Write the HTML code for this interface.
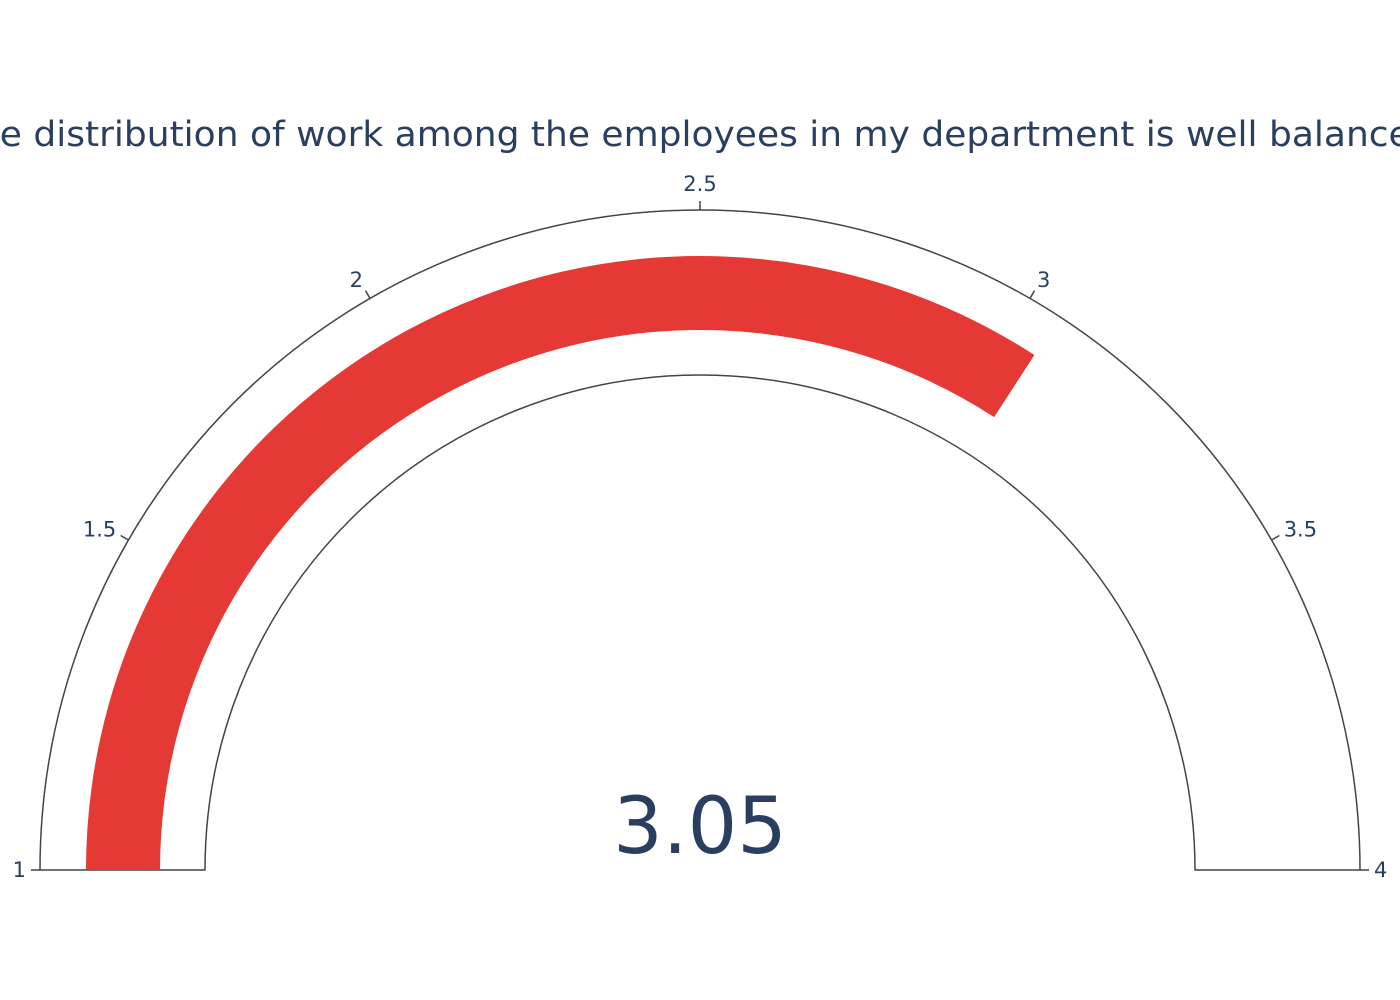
<!DOCTYPE html>
<html><head><meta charset="utf-8"><style>
html,body{margin:0;padding:0;background:#fff;width:1400px;height:1000px;overflow:hidden}
svg text{font-family:"DejaVu Sans","Liberation Sans",sans-serif;fill:#2a3f5f}
</style></head><body>
<svg id="chart" width="1400" height="1000">
<text x="700" y="146" text-anchor="middle" font-size="35" textLength="1490" lengthAdjust="spacingAndGlyphs">The distribution of work among the employees in my department is well balanced.</text>
<g id="g"></g>
<text id="val" x="700" y="853" text-anchor="middle" font-size="78"></text>
</svg>
<script>
const rangeMin = 1, rangeMax = 4;
const gaugeValue = [3.05];
const tickValues = [1, 1.5, 2, 2.5, 3, 3.5, 4];
const tickLabels = ["1", "1.5", "2", "2.5", "3", "3.5", "4"];
const cx = 700, cy = 870, rOut = 660, rIn = 495, bOut = 614, bIn = 540;
const NS = "http://www.w3.org/2000/svg";
const g = document.getElementById('g');
function ang(v){return Math.PI*(1-(v-rangeMin)/(rangeMax-rangeMin));}
function pt(r,a){return [cx+r*Math.cos(a), cy-r*Math.sin(a)];}
function arcPath(r1,r2,v0,v1){
  const a0=ang(v0),a1=ang(v1);
  const p1=pt(r2,a0),p2=pt(r2,a1),p3=pt(r1,a1),p4=pt(r1,a0);
  const large=(a0-a1)>Math.PI?1:0;
  return `M${p1} A${r2},${r2} 0 ${large} 1 ${p2} L${p3} A${r1},${r1} 0 ${large} 0 ${p4} Z`;
}
const bg=document.createElementNS(NS,'path');
bg.setAttribute('d',arcPath(rIn,rOut,rangeMin,rangeMax));
bg.setAttribute('fill','#fff');bg.setAttribute('stroke','#444');bg.setAttribute('stroke-width','1.5');


g.appendChild(bg);
const bar=document.createElementNS(NS,'path');
bar.setAttribute('d',arcPath(bIn,bOut,rangeMin,gaugeValue[0]));
bar.setAttribute('fill','#e53935');


g.appendChild(bar);
tickValues.forEach((v,i)=>{
  const a=ang(v);const p1=pt(rOut,a),p2=pt(rOut+9,a);
  const l=document.createElementNS(NS,'line');
  l.setAttribute('x1',p1[0]);l.setAttribute('y1',p1[1]);l.setAttribute('x2',p2[0]);l.setAttribute('y2',p2[1]);
  l.setAttribute('stroke','#444');l.setAttribute('stroke-width','1.5');
  
  
  g.appendChild(l);
  const c=Math.cos(a);
  const pl=pt(rOut+14,a);
  const t=document.createElementNS(NS,'text');
  const anchor = c>0.2?'start':(c<-0.2?'end':'middle');
  const dy = Math.sin(a)>0.9 ? -5 : 7 - 7*Math.sin(a);
  t.setAttribute('x',pl[0]);t.setAttribute('y',pl[1]+dy);t.setAttribute('text-anchor',anchor);t.setAttribute('font-size','21');
  t.textContent=tickLabels[i];
  
  
  g.appendChild(t);
});
document.getElementById('val').textContent=gaugeValue[0].toFixed(2);
</script>
</body></html>
